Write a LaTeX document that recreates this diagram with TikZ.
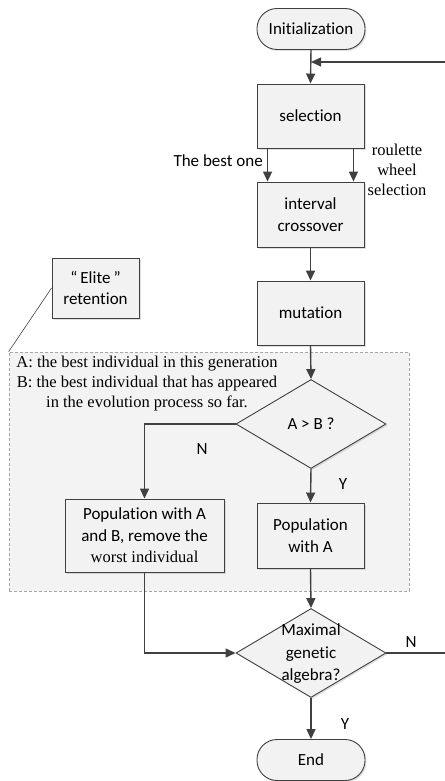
\documentclass[tikz,border=0pt]{standalone}
\usepackage{fontspec}
\setmainfont{Liberation Serif}
\newfontfamily\calfont{Carlito}[Ligatures={NoCommon}]
\usetikzlibrary{shapes.geometric,arrows.meta,calc,shadows}
\definecolor{boxfill}{HTML}{F2F2F2}
\definecolor{regfill}{HTML}{F3F3F3}
\definecolor{linec}{HTML}{404040}
\definecolor{dashc}{HTML}{A6A6A6}
\begin{document}
\begin{tikzpicture}[x=1pt,y=-1pt,
  sansfont/.style={font=\calfont\fontsize{17}{21.5}\selectfont},
  seriffont/.style={font=\fontsize{16.5}{20}\selectfont},
  boxbase/.style={draw=linec,line width=0.9pt,fill=boxfill,inner sep=0pt,
    drop shadow={opacity=0.25,shadow xshift=1.5pt,shadow yshift=-1.5pt}},
  procbox/.style={boxbase,rectangle,sansfont,align=center,minimum width=107pt,minimum height=64pt},
  pill/.style={boxbase,rectangle,rounded corners=20pt,sansfont,minimum width=108pt,minimum height=41pt},
  decision/.style={boxbase,diamond,aspect=1.685,minimum width=150pt,minimum height=89pt},
  lbl/.style={inner sep=0pt,sansfont},
  arr/.style={draw=linec,line width=1.4pt,-{Triangle[length=10pt,width=9pt]}},
  conn/.style={draw=linec,line width=1.4pt}
]
\useasboundingbox (0,0) rectangle (444,781);

% dashed region
\node[draw=dashc,dashed,dash pattern=on 3pt off 2pt,line width=0.7pt,fill=regfill,
  minimum width=400pt,minimum height=239pt,inner sep=0pt] (region) at (209,471.5) {};

% nodes
\node[pill] (init) at (311,29) {Initialization};
\node[procbox] (sel) at (310.5,116) {selection};
\node[procbox,minimum height=65pt] (cross) at (310.5,214.5) {interval\\crossover};
\node[procbox] (mut) at (310.5,313) {mutation};
\node[procbox,minimum width=87pt,minimum height=60pt] (elite) at (95.5,288)
  {“\hspace{3pt}Elite\hspace{3pt}”\\retention};
\node[seriffont,align=center,inner sep=0pt] (notes) at (147,384)
  {A: the best individual in this generation\\
   B: the best individual that has appeared\\
   in the evolution process so far.};
\node[decision] (d1) at (311,424) {};
\node[lbl] (d1t) at (311,424) {A > B ?};
\node[procbox,minimum width=159pt,minimum height=73pt] (pl) at (144.5,535.5)
  {\fontsize{17}{22}\selectfont Population with A\\and B, remove the\\{\rmfamily\fontsize{16.5}{22}\selectfont worst individual}};
\node[procbox,minimum height=65pt] (pa) at (310.5,535.5)
  {\fontsize{17}{22}\selectfont Population\\with A};
\node[decision] (d2) at (311,653) {};
\node[lbl,align=center,font=\calfont\fontsize{17}{22.5}\selectfont] (d2t) at (311,654)
  {Maximal\\genetic\\algebra?};
\node[pill] (endn) at (311,760) {End};

% labels
\node[lbl,anchor=east] (bestone) at (263,161) {The best one};
\node[seriffont,align=center,inner sep=0pt] (roul) at (397,170) {roulette\\wheel\\selection};
\node[lbl] (n1) at (202,449) {N};
\node[lbl] (y1) at (343,484) {Y};
\node[lbl] (n2) at (411,642) {N};
\node[lbl] (y2) at (345,724) {Y};

% connectors
\coordinate (fbR) at (447,62);
\draw[arr] (init.south) -- (sel.north);
\draw[conn] (d2.east) -- (d2.east -| fbR) -- (fbR);
\draw[arr] (fbR) -- (fbR -| init.south);
\draw[arr] ($(sel.south west)+(11,0)$) -- ($(cross.north west)+(11,0)$);
\draw[arr] ($(sel.south east)+(-11,0)$) -- ($(cross.north east)+(-11,0)$);
\draw[arr] (cross.south) -- (mut.north);
\draw[arr] (mut.south) -- (d1.north);
\draw[arr] (d1.west) -- (d1.west -| pl.north) -- (pl.north);
\draw[arr] (d1.south) -- (pa.north);
\draw[arr] (pl.south) -- (pl.south |- d2.west) -- (d2.west);
\draw[arr] (pa.south) -- (d2.north);
\draw[arr] (d2.south) -- (endn.north);
\draw[draw=linec,line width=0.6pt] (elite.west) -- (region.north west);
\end{tikzpicture}
\end{document}
